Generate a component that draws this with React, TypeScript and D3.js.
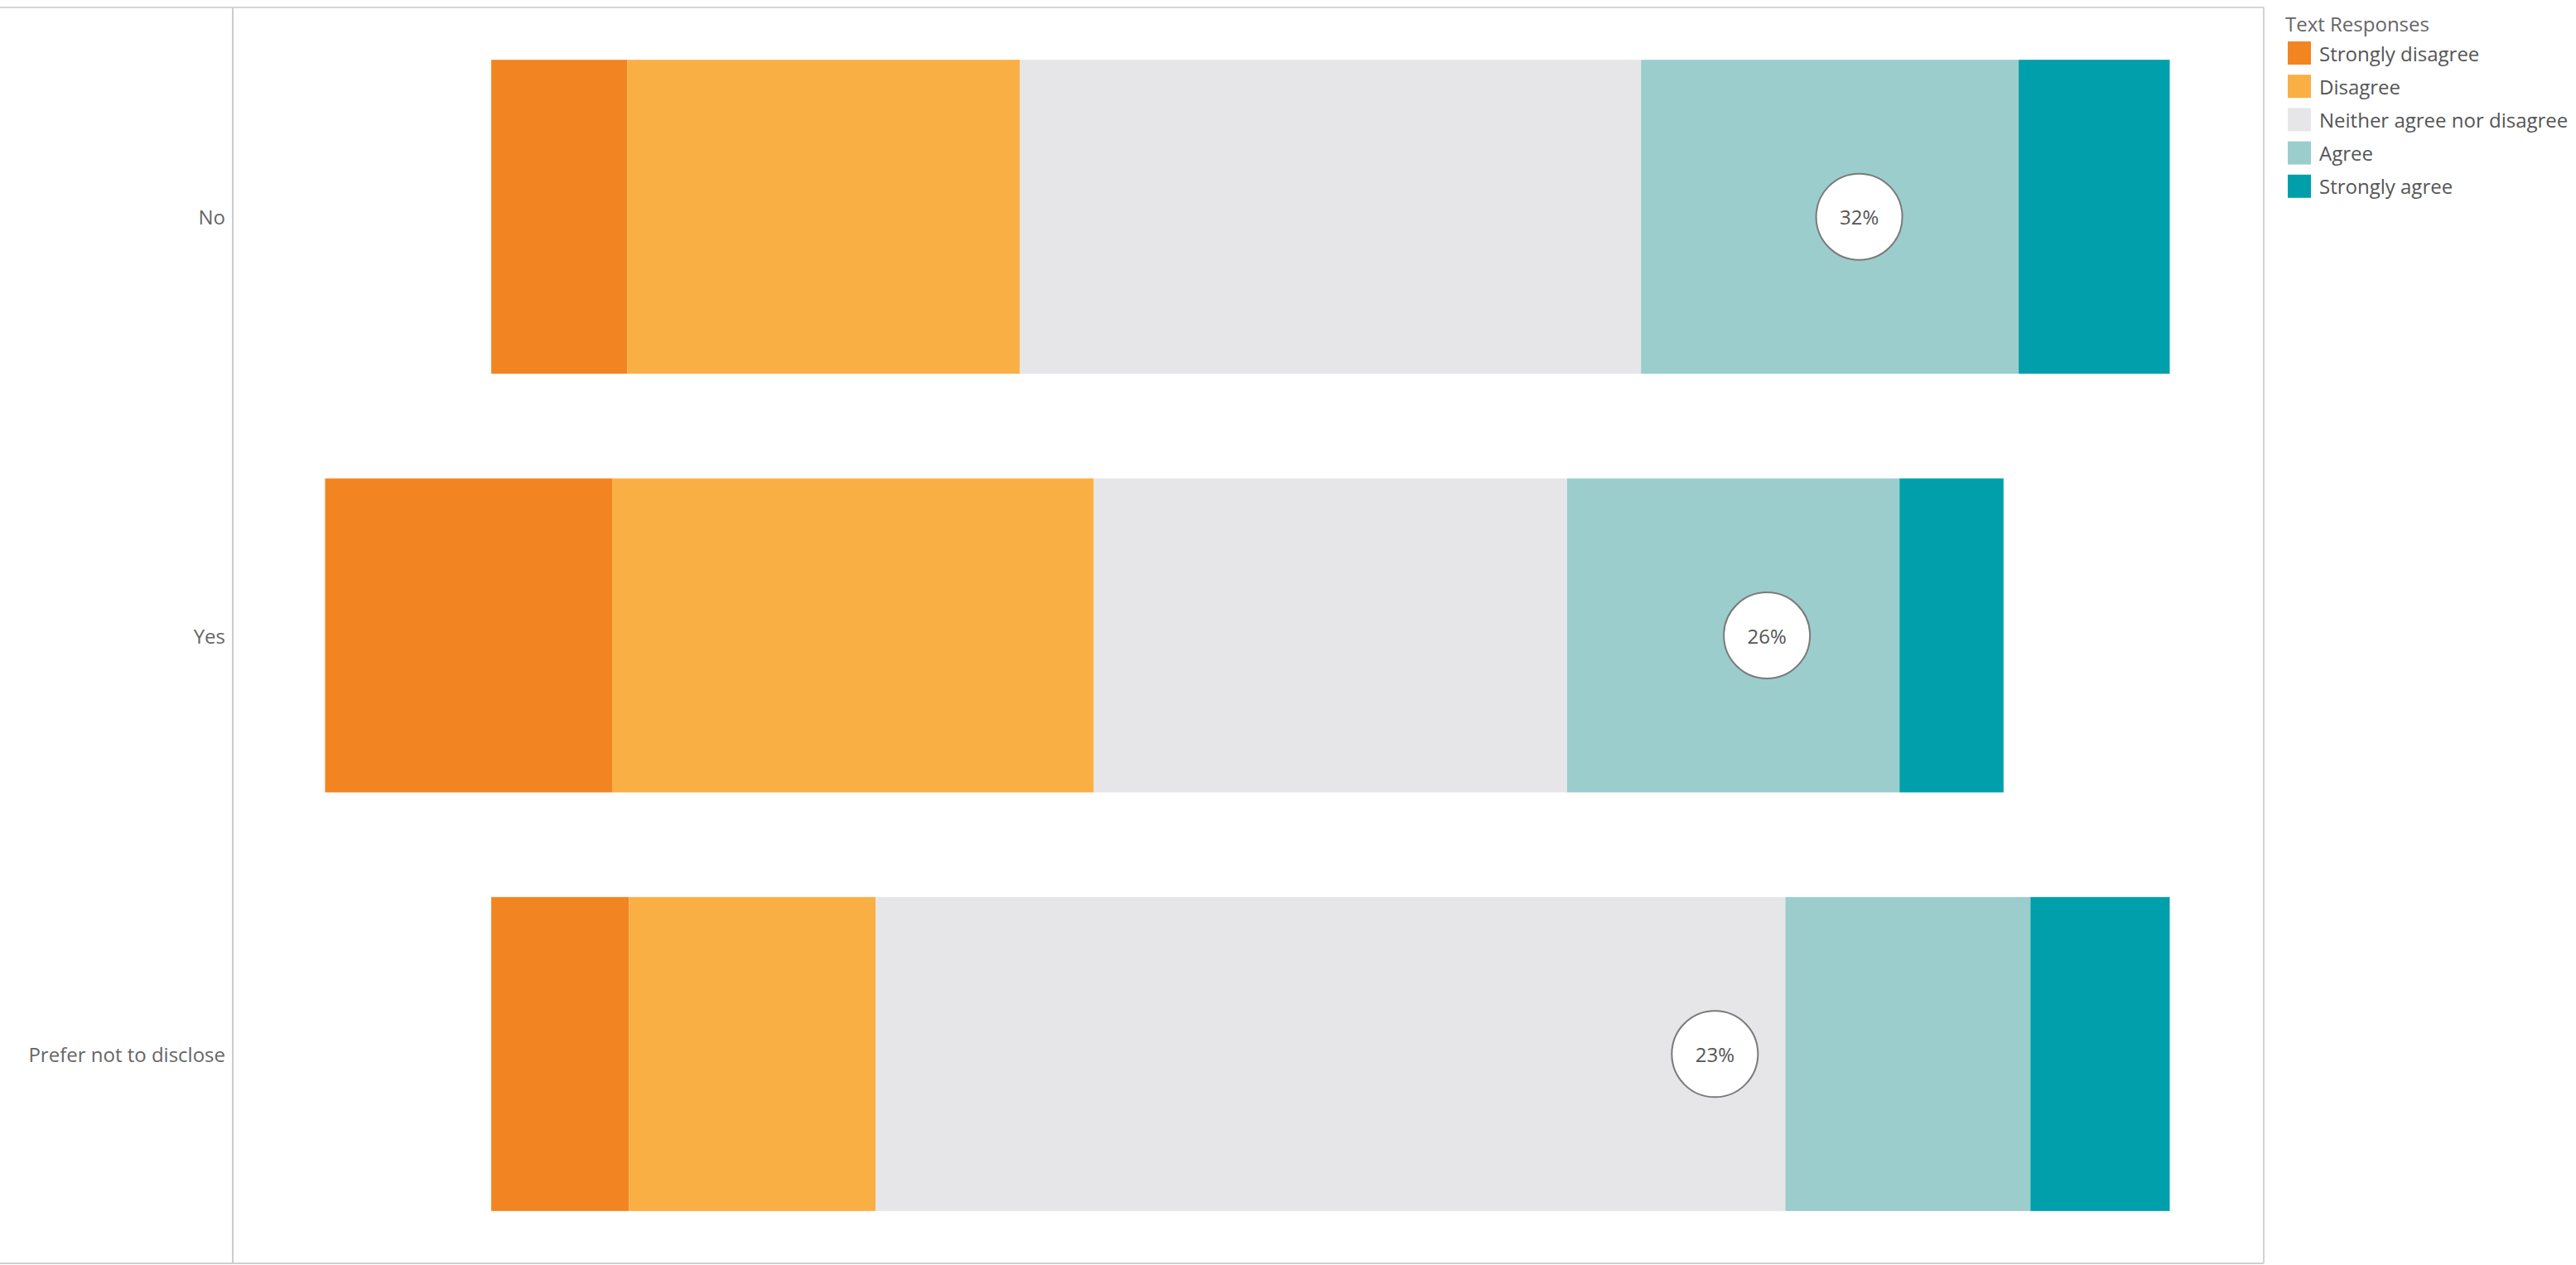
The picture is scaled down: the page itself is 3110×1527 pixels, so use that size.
import React, { useEffect } from "react";
import * as d3 from "d3";

const categories = ["No", "Yes", "Prefer not to disclose"];
const responses = ["Strongly disagree", "Disagree", "Neither agree nor disagree", "Agree", "Strongly agree"];
const stronglyDisagree = [8.1, 17.1, 8.2];
const disagree = [23.4, 28.7, 14.7];
const neither = [37.0, 28.2, 54.2];
const agree = [22.5, 19.8, 14.6];
const stronglyAgree = [9.0, 6.2, 8.3];
const responseColors = ["#F28522", "#FAAF44", "#E6E6E9", "#9BCDCC", "#009FAC"];
const legendTitle = "Text Responses";
const xDomain = [-65.4, 55.6];

const W = 3110;
const H = 1527;
const plotLeft = 281;
const plotRight = 2733;
const plotTop = 9;
const plotBottom = 1525;
const FONT = "'Open Sans', 'Noto Sans', sans-serif";

export default function App() {
  useEffect(() => {
    document.body.style.margin = "0";
    document.body.style.overflow = "hidden";
  }, []);

  const x = d3.scaleLinear().domain(xDomain).range([plotLeft, plotRight]);
  const y = d3
    .scaleBand<string>()
    .domain(categories)
    .range([plotTop, plotBottom])
    .paddingInner(0.25)
    .paddingOuter(0.125);

  const series = [stronglyDisagree, disagree, neither, agree, stronglyAgree];

  const rows = categories.map((cat, i) => {
    const vals = series.map((s) => s[i]);
    const start = -(vals[0] + vals[1] + vals[2] / 2);
    let acc = start;
    const segs = vals.map((v, k) => {
      const s0 = acc;
      acc += v;
      return { k, x0: s0, x1: acc };
    });
    const agreeTotal = vals[3] + vals[4];
    return { cat, segs, agreeTotal };
  });

  const legendX = 2762;
  const legendY0 = 50;
  const legendStep = 40.2;

  return (
    <svg
      width={W}
      height={H}
      style={{ position: "absolute", left: 0, top: 0, background: "#fff" }}
      fontFamily={FONT}
    >
      <rect x={0} y={0} width={W} height={H} fill="#fff" />
      {/* frame */}
      <line x1={0} x2={plotRight} y1={plotTop} y2={plotTop} stroke="#d6d6d6" strokeWidth={2} />
      <line x1={0} x2={plotRight} y1={plotBottom} y2={plotBottom} stroke="#cfcfcf" strokeWidth={2} />
      <line x1={plotRight} x2={plotRight} y1={plotTop} y2={plotBottom} stroke="#d3d3d3" strokeWidth={2} />
      <line x1={plotLeft} x2={plotLeft} y1={plotTop} y2={plotBottom} stroke="#cccccc" strokeWidth={2} />

      {rows.map((r) => {
        const y0 = y(r.cat)!;
        const bw = y.bandwidth();
        const cy = y0 + bw / 2;
        return (
          <g key={r.cat}>
            {r.segs.map((s) => (
              <rect
                key={s.k}
                x={x(s.x0)}
                y={y0}
                width={x(s.x1) - x(s.x0)}
                height={bw}
                fill={responseColors[s.k]}
              />
            ))}
            <circle cx={x(r.agreeTotal)} cy={cy} r={52} fill="#fff" stroke="#7a7a7a" strokeWidth={2} />
            <text
              x={x(r.agreeTotal)}
              y={cy}
              textAnchor="middle"
              dominantBaseline="central"
              fontSize={24}
              fill="#555"
            >
              {Math.round(r.agreeTotal)}%
            </text>
            <text
              x={plotLeft - 9}
              y={cy}
              textAnchor="end"
              dominantBaseline="central"
              fontSize={24}
              fill="#666"
            >
              {r.cat}
            </text>
          </g>
        );
      })}

      {/* legend */}
      <text x={legendX - 3} y={38} fontSize={24} fill="#666">
        {legendTitle}
      </text>
      {responses.map((name, i) => {
        const ty = legendY0 + i * legendStep;
        return (
          <g key={name}>
            <rect x={legendX} y={ty} width={28} height={28} fill={responseColors[i]} />
            <text x={legendX + 38} y={ty + 14} dominantBaseline="central" fontSize={24} fill="#555">
              {name}
            </text>
          </g>
        );
      })}
    </svg>
  );
}
